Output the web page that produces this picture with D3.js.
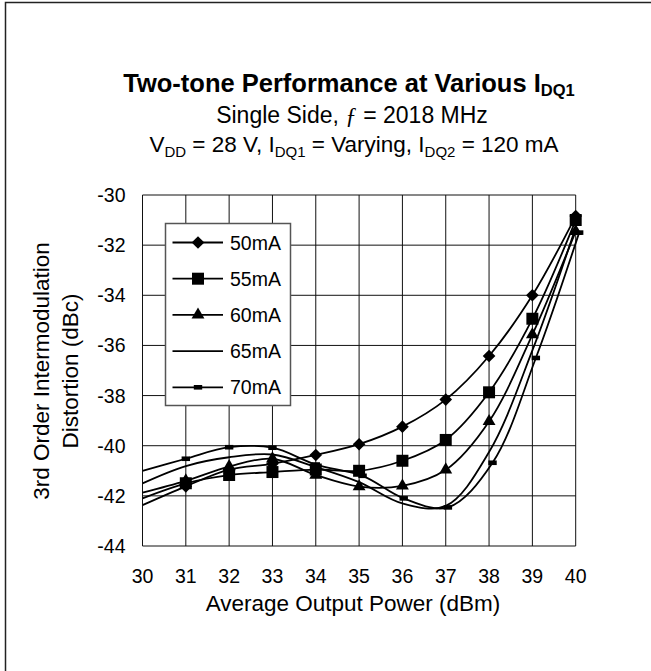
<!DOCTYPE html>
<html>
<head>
<meta charset="utf-8">
<script src="https://cdn.jsdelivr.net/npm/d3@7"></script>
<style>
  body { margin: 0; background: #fff; }
  text { font-family: "Liberation Sans", Arial, sans-serif; fill: #000; }
</style>
</head>
<body>
<div class="chart"></div>
<script>
// values
var powerDbm = [30, 31, 32, 33, 34, 35, 36, 37, 38, 39, 40];
var power70 = [30, 31, 32, 33, 34, 35.08, 36.03, 37.05, 38.08, 39.08, 40.08];
var imd50 = [-42.37, -41.62, -40.95, -40.72, -40.37, -39.94, -39.24, -38.16, -36.42, -34.0, -30.84];
var imd55 = [-42.1, -41.5, -41.17, -41.05, -40.95, -41.0, -40.6, -39.77, -37.87, -34.94, -31.0];
var imd60 = [-41.87, -41.4, -40.83, -40.52, -41.17, -41.63, -41.6, -40.96, -39.03, -35.57, -31.45];
var imd65 = [-41.5, -40.81, -40.46, -40.35, -40.85, -41.45, -42.3, -42.4, -40.25, -36.2, -31.3];
var imd70 = [-41.0, -40.52, -40.06, -40.08, -40.75, -41.2, -42.1, -42.46, -40.68, -36.5, -31.5];
var seriesNames = ['50mA', '55mA', '60mA', '65mA', '70mA'];
var markerTypes = ['diamond', 'square', 'triangle', 'none', 'dash'];
var xTicks = [30, 31, 32, 33, 34, 35, 36, 37, 38, 39, 40];
var yTicks = [-30, -32, -34, -36, -38, -40, -42, -44];

var series = [
  { name: seriesNames[0], marker: markerTypes[0], xs: powerDbm, ys: imd50 },
  { name: seriesNames[1], marker: markerTypes[1], xs: powerDbm, ys: imd55 },
  { name: seriesNames[2], marker: markerTypes[2], xs: powerDbm, ys: imd60 },
  { name: seriesNames[3], marker: markerTypes[3], xs: powerDbm, ys: imd65 },
  { name: seriesNames[4], marker: markerTypes[4], xs: power70, ys: imd70 }
];

var width = 651, height = 671;
var plot = { left: 142.5, right: 575.7, top: 195, bottom: 546 };

var svg = d3.select('.chart')
  .append('svg')
  .attr('width', width)
  .attr('height', height);

// outer frame (only left/top edges fall inside the picture)
svg.append('rect')
  .attr('x', 5.5).attr('y', 2.5)
  .attr('width', 800).attr('height', 800)
  .attr('fill', 'none')
  .attr('stroke', '#222')
  .attr('stroke-width', 1.5);

var xScale = d3.scaleLinear().domain([30, 40]).range([plot.left, plot.right]);
var yScale = d3.scaleLinear().domain([-44, -30]).range([plot.bottom, plot.top]);

// titles
var title = svg.append('text')
  .attr('x', 349).attr('y', 92)
  .attr('text-anchor', 'middle')
  .style('font-size', '25.5px')
  .style('font-weight', 'bold');
title.append('tspan').text('Two-tone Performance at Various I');
title.append('tspan').attr('dy', 4).style('font-size', '16.5px').text('DQ1');

var sub1 = svg.append('text')
  .attr('x', 352).attr('y', 123)
  .attr('text-anchor', 'middle')
  .style('font-size', '23px');
sub1.append('tspan').text('Single Side, ');
sub1.append('tspan').style('font-style', 'italic').style('font-family', '"Liberation Serif", serif').text('ƒ');
sub1.append('tspan').text(' = 2018 MHz');

var sub2 = svg.append('text')
  .attr('x', 354).attr('y', 152)
  .attr('text-anchor', 'middle')
  .style('font-size', '22.5px');
[['V', 0], ['DD', 1], [' = 28 V, I', 0], ['DQ1', 1], [' = Varying, I', 0], ['DQ2', 1], [' = 120 mA', 0]]
  .forEach(function (p, i, arr) {
    var prevSub = i > 0 && arr[i - 1][1];
    sub2.append('tspan')
      .attr('dy', p[1] ? 5 : (prevSub ? -5 : 0))
      .style('font-size', p[1] ? '15px' : null)
      .text(p[0]);
  });

// grid
var g = svg.append('g');
g.selectAll('.vgrid')
  .data(xTicks)
  .enter().append('line')
  .attr('x1', d => xScale(d)).attr('x2', d => xScale(d))
  .attr('y1', plot.top).attr('y2', plot.bottom)
  .attr('stroke', '#111').attr('stroke-width', 1);
g.selectAll('.hgrid')
  .data(yTicks)
  .enter().append('line')
  .attr('x1', plot.left).attr('x2', plot.right)
  .attr('y1', d => yScale(d)).attr('y2', d => yScale(d))
  .attr('stroke', '#111').attr('stroke-width', 1);

// tick labels
svg.selectAll('.xlab')
  .data(xTicks)
  .enter().append('text')
  .attr('x', d => xScale(d))
  .attr('y', 582.5)
  .attr('text-anchor', 'middle')
  .style('font-size', '19.5px')
  .text(d => d);
svg.selectAll('.ylab')
  .data(yTicks)
  .enter().append('text')
  .attr('x', 125.5)
  .attr('y', d => yScale(d) + 7)
  .attr('text-anchor', 'end')
  .style('font-size', '19.5px')
  .text(d => d);

// axis titles
svg.append('text')
  .attr('x', 353).attr('y', 611)
  .attr('text-anchor', 'middle')
  .style('font-size', '22.5px')
  .text('Average Output Power (dBm)');
svg.append('text')
  .attr('transform', 'translate(41.5,371) rotate(-90)')
  .attr('dy', '0.35em')
  .attr('text-anchor', 'middle')
  .style('font-size', '22.5px')
  .text('3rd Order Intermodulation');
svg.append('text')
  .attr('transform', 'translate(70.5,371) rotate(-90)')
  .attr('dy', '0.35em')
  .attr('text-anchor', 'middle')
  .style('font-size', '22.5px')
  .text('Distortion (dBc)');

// curves
svg.append('clipPath').attr('id', 'clip')
  .append('rect')
  .attr('x', plot.left).attr('y', plot.top - 10)
  .attr('width', plot.right - plot.left + 10)
  .attr('height', plot.bottom - plot.top + 10);

var line = d3.line()
  .x(d => xScale(d[0]))
  .y(d => yScale(d[1]))
  .curve(d3.curveCatmullRom.alpha(0.5));

var curves = svg.append('g').attr('clip-path', 'url(#clip)');
curves.selectAll('path')
  .data(series)
  .enter().append('path')
  .attr('d', s => line(s.xs.map((x, i) => [x, s.ys[i]])))
  .attr('fill', 'none')
  .attr('stroke', '#000')
  .attr('stroke-width', 1.8);

function drawMarker(sel, type) {
  if (type === 'diamond') {
    sel.append('path')
      .attr('d', d3.symbol(d3.symbolSquare, 80)())
      .attr('transform', 'rotate(45)');
  } else if (type === 'square') {
    sel.append('path').attr('d', d3.symbol(d3.symbolSquare, 144)());
  } else if (type === 'triangle') {
    sel.append('path').attr('d', d3.symbol(d3.symbolTriangle, 72)());
  } else if (type === 'dash') {
    sel.append('rect')
      .attr('x', -4.2).attr('y', -2.3)
      .attr('width', 8.4).attr('height', 4.6);
  }
}

series.forEach(function (s) {
  if (s.marker === 'none') return;
  var pts = s.xs.map((x, i) => [x, s.ys[i]]).filter(p => p[0] > 30.5);
  curves.append('g')
    .selectAll('g')
    .data(pts)
    .enter().append('g')
    .attr('transform', d => 'translate(' + xScale(d[0]) + ',' + yScale(d[1]) + ')')
    .attr('fill', '#000')
    .each(function () { drawMarker(d3.select(this), s.marker); });
});

// legend
var legend = svg.append('g').attr('transform', 'translate(165.5,223.5)');
legend.append('rect')
  .attr('width', 125).attr('height', 182)
  .attr('fill', '#fff')
  .attr('stroke', '#555')
  .attr('stroke-width', 1.5);

var rows = legend.selectAll('.row')
  .data(series)
  .enter().append('g')
  .attr('transform', (d, i) => 'translate(0,' + (19 + i * 36.2) + ')');
rows.append('line')
  .attr('x1', 7).attr('x2', 57.5)
  .attr('stroke', '#000').attr('stroke-width', 1.8);
rows.append('g')
  .attr('transform', 'translate(32.5,0)')
  .attr('fill', '#000')
  .each(function (d) { drawMarker(d3.select(this), d.marker); });
rows.append('text')
  .attr('x', 64.5).attr('y', 7)
  .style('font-size', '19.5px')
  .text(d => d.name);
</script>
</body>
</html>
